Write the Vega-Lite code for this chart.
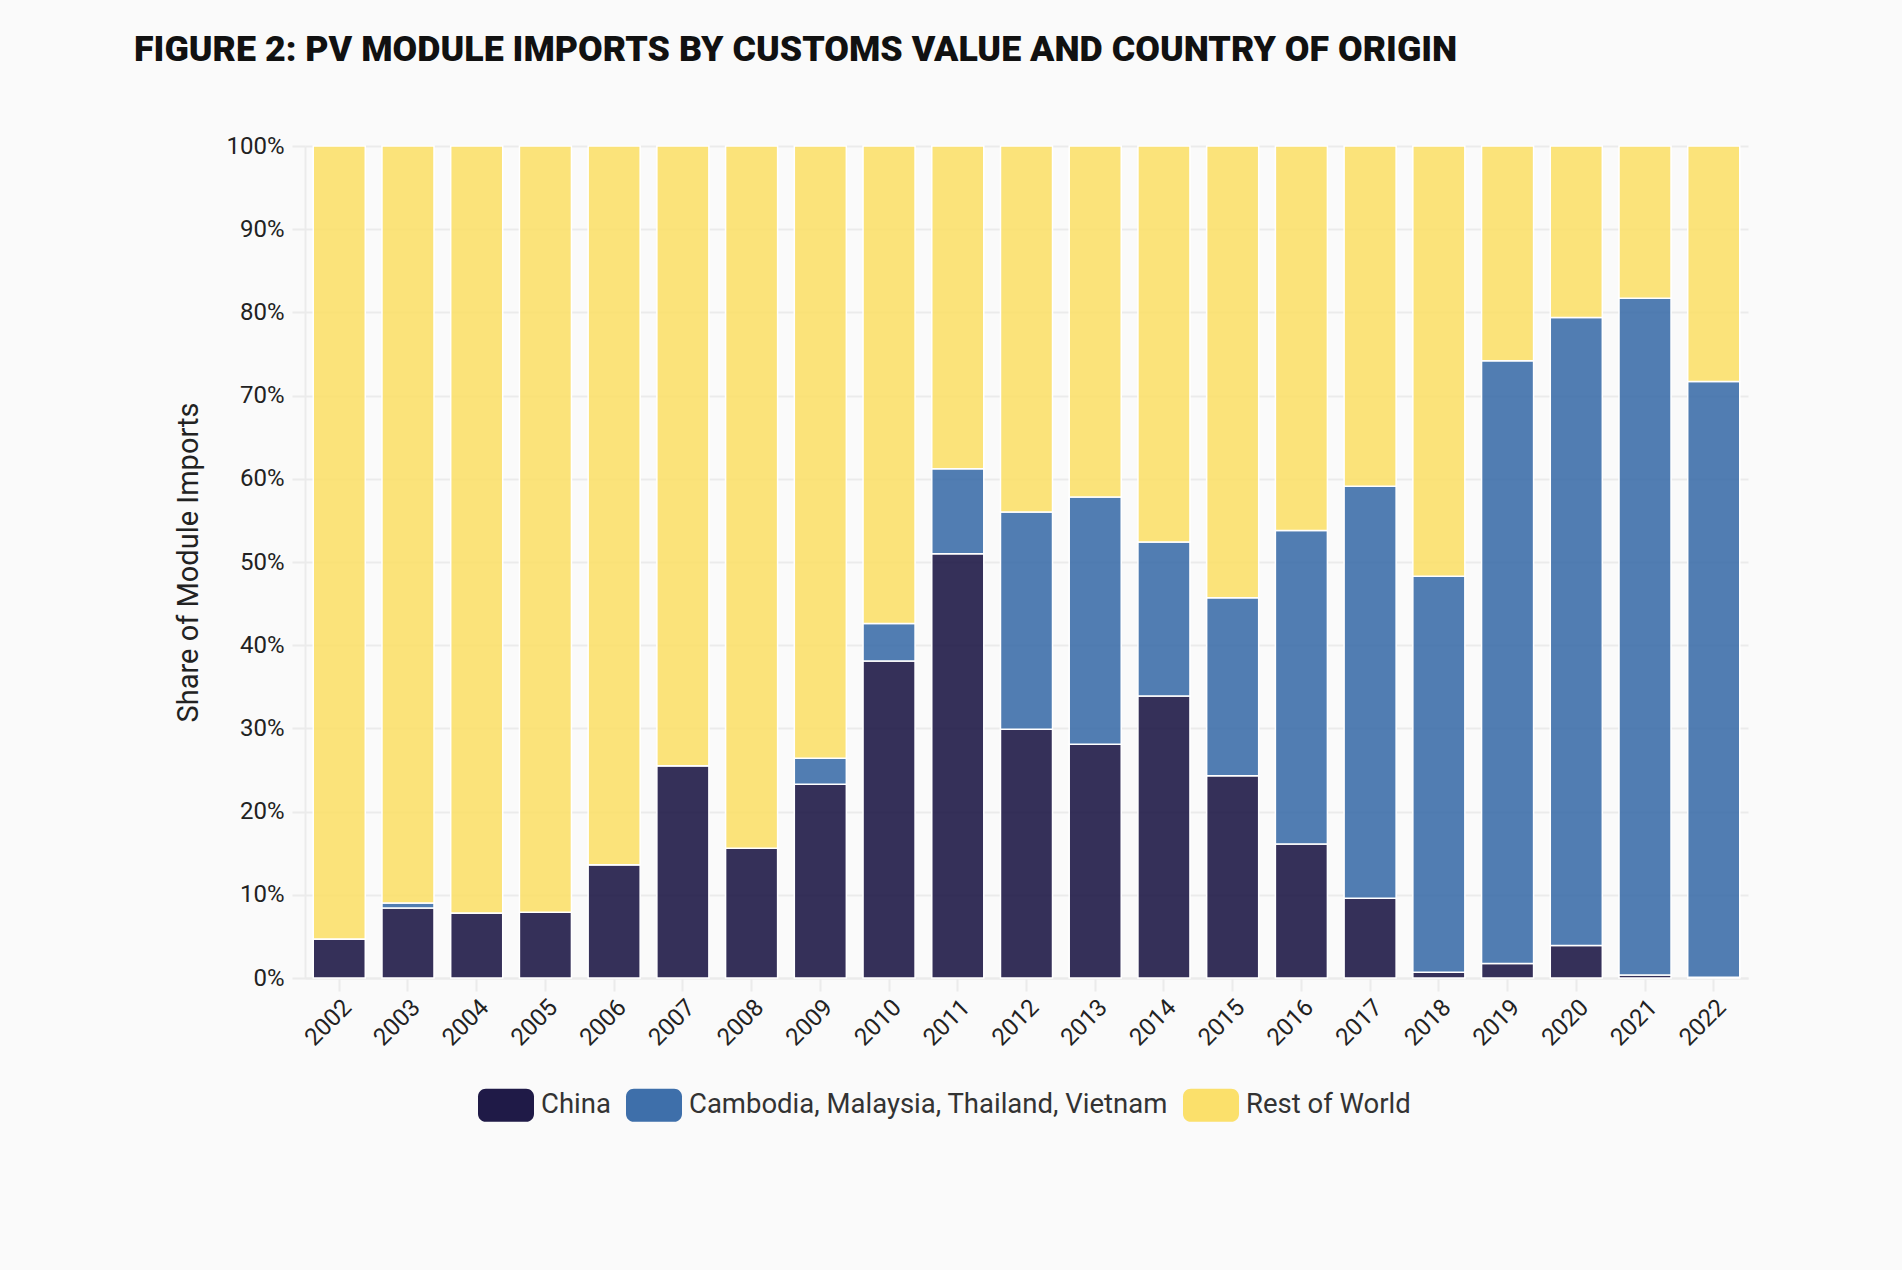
{
  "$schema": "https://vega.github.io/schema/vega-lite/v6.json",
  "autosize": {"type": "none"},
  "padding": {"left": 305, "top": 146, "right": 154, "bottom": 292},
  "width": 1443,
  "height": 832,
  "background": "#fafafa",
  "title": {
    "text": "FIGURE 2: PV MODULE IMPORTS BY CUSTOMS VALUE AND COUNTRY OF ORIGIN",
    "anchor": "start",
    "frame": "group",
    "dx": -171,
    "font": "Roboto",
    "fontSize": 35.8,
    "fontWeight": 900,
    "color": "#111111",
    "offset": 65
  },
  "data": {
    "values": [
      {"year": "2002", "series": "China", "share": 4.7},
      {"year": "2002", "series": "Cambodia, Malaysia, Thailand, Vietnam", "share": 0},
      {"year": "2002", "series": "Rest of World", "share": 95.3},
      {"year": "2003", "series": "China", "share": 8.4},
      {"year": "2003", "series": "Cambodia, Malaysia, Thailand, Vietnam", "share": 0.6},
      {"year": "2003", "series": "Rest of World", "share": 91.0},
      {"year": "2004", "series": "China", "share": 7.8},
      {"year": "2004", "series": "Cambodia, Malaysia, Thailand, Vietnam", "share": 0},
      {"year": "2004", "series": "Rest of World", "share": 92.2},
      {"year": "2005", "series": "China", "share": 7.9},
      {"year": "2005", "series": "Cambodia, Malaysia, Thailand, Vietnam", "share": 0},
      {"year": "2005", "series": "Rest of World", "share": 92.1},
      {"year": "2006", "series": "China", "share": 13.6},
      {"year": "2006", "series": "Cambodia, Malaysia, Thailand, Vietnam", "share": 0},
      {"year": "2006", "series": "Rest of World", "share": 86.4},
      {"year": "2007", "series": "China", "share": 25.5},
      {"year": "2007", "series": "Cambodia, Malaysia, Thailand, Vietnam", "share": 0},
      {"year": "2007", "series": "Rest of World", "share": 74.5},
      {"year": "2008", "series": "China", "share": 15.6},
      {"year": "2008", "series": "Cambodia, Malaysia, Thailand, Vietnam", "share": 0},
      {"year": "2008", "series": "Rest of World", "share": 84.4},
      {"year": "2009", "series": "China", "share": 23.3},
      {"year": "2009", "series": "Cambodia, Malaysia, Thailand, Vietnam", "share": 3.1},
      {"year": "2009", "series": "Rest of World", "share": 73.6},
      {"year": "2010", "series": "China", "share": 38.1},
      {"year": "2010", "series": "Cambodia, Malaysia, Thailand, Vietnam", "share": 4.5},
      {"year": "2010", "series": "Rest of World", "share": 57.4},
      {"year": "2011", "series": "China", "share": 51.0},
      {"year": "2011", "series": "Cambodia, Malaysia, Thailand, Vietnam", "share": 10.2},
      {"year": "2011", "series": "Rest of World", "share": 38.8},
      {"year": "2012", "series": "China", "share": 29.9},
      {"year": "2012", "series": "Cambodia, Malaysia, Thailand, Vietnam", "share": 26.1},
      {"year": "2012", "series": "Rest of World", "share": 44.0},
      {"year": "2013", "series": "China", "share": 28.1},
      {"year": "2013", "series": "Cambodia, Malaysia, Thailand, Vietnam", "share": 29.7},
      {"year": "2013", "series": "Rest of World", "share": 42.2},
      {"year": "2014", "series": "China", "share": 33.9},
      {"year": "2014", "series": "Cambodia, Malaysia, Thailand, Vietnam", "share": 18.5},
      {"year": "2014", "series": "Rest of World", "share": 47.6},
      {"year": "2015", "series": "China", "share": 24.3},
      {"year": "2015", "series": "Cambodia, Malaysia, Thailand, Vietnam", "share": 21.4},
      {"year": "2015", "series": "Rest of World", "share": 54.3},
      {"year": "2016", "series": "China", "share": 16.1},
      {"year": "2016", "series": "Cambodia, Malaysia, Thailand, Vietnam", "share": 37.7},
      {"year": "2016", "series": "Rest of World", "share": 46.2},
      {"year": "2017", "series": "China", "share": 9.6},
      {"year": "2017", "series": "Cambodia, Malaysia, Thailand, Vietnam", "share": 49.5},
      {"year": "2017", "series": "Rest of World", "share": 40.9},
      {"year": "2018", "series": "China", "share": 0.7},
      {"year": "2018", "series": "Cambodia, Malaysia, Thailand, Vietnam", "share": 47.6},
      {"year": "2018", "series": "Rest of World", "share": 51.7},
      {"year": "2019", "series": "China", "share": 1.75},
      {"year": "2019", "series": "Cambodia, Malaysia, Thailand, Vietnam", "share": 72.45},
      {"year": "2019", "series": "Rest of World", "share": 25.8},
      {"year": "2020", "series": "China", "share": 3.9},
      {"year": "2020", "series": "Cambodia, Malaysia, Thailand, Vietnam", "share": 75.5},
      {"year": "2020", "series": "Rest of World", "share": 20.6},
      {"year": "2021", "series": "China", "share": 0.35},
      {"year": "2021", "series": "Cambodia, Malaysia, Thailand, Vietnam", "share": 81.35},
      {"year": "2021", "series": "Rest of World", "share": 18.3},
      {"year": "2022", "series": "China", "share": 0.1},
      {"year": "2022", "series": "Cambodia, Malaysia, Thailand, Vietnam", "share": 71.6},
      {"year": "2022", "series": "Rest of World", "share": 28.3}
    ]
  },
  "transform": [
    {"calculate": "indexof(['China', 'Cambodia, Malaysia, Thailand, Vietnam', 'Rest of World'], datum.series)", "as": "stack_rank"}
  ],
  "mark": {"type": "bar", "fillOpacity": 0.9, "stroke": "#ffffff", "strokeWidth": 1.5},
  "encoding": {
    "x": {
      "field": "year",
      "type": "ordinal",
      "title": null,
      "scale": {"paddingInner": 0.243, "paddingOuter": 0.12},
      "axis": {
        "labelAngle": -45,
        "labelFontSize": 24,
        "labelColor": "#222222",
        "labelPadding": 4,
        "tickColor": "#ebebeb",
        "tickSize": 13,
        "tickWidth": 2,
        "domainColor": "#ebebeb",
        "domainWidth": 2,
        "grid": false
      }
    },
    "y": {
      "field": "share",
      "type": "quantitative",
      "stack": "normalize",
      "title": "Share of Module Imports",
      "scale": {"domain": [0, 1]},
      "axis": {
        "values": [0, 0.1, 0.2, 0.3, 0.4, 0.5, 0.6, 0.7, 0.8, 0.9, 1],
        "format": ".0%",
        "labelFontSize": 24,
        "labelColor": "#222222",
        "labelPadding": 8,
        "titleFontSize": 29,
        "titleFontWeight": "normal",
        "titleColor": "#222222",
        "titlePadding": 22,
        "grid": true,
        "gridColor": "#ebebeb",
        "gridWidth": 2,
        "tickColor": "#ebebeb",
        "tickSize": 13,
        "tickWidth": 2,
        "domainColor": "#ebebeb",
        "domainWidth": 2
      }
    },
    "color": {
      "field": "series",
      "type": "nominal",
      "scale": {
        "domain": ["China", "Cambodia, Malaysia, Thailand, Vietnam", "Rest of World"],
        "range": ["#1f1a47", "#3e6faa", "#fbe06b"]
      },
      "legend": {
        "orient": "none",
        "legendX": 173,
        "legendY": 931,
        "direction": "horizontal",
        "title": null,
        "labelFontSize": 27.5,
        "labelColor": "#333333",
        "labelOffset": 7,
        "labelLimit": 800,
        "columnPadding": 15,
        "symbolType": "M-0.72,-0.59 H0.72 A0.28,0.28 0 0 1 1,-0.31 V0.31 A0.28,0.28 0 0 1 0.72,0.59 H-0.72 A0.28,0.28 0 0 1 -1,0.31 V-0.31 A0.28,0.28 0 0 1 -0.72,-0.59 Z",
        "symbolSize": 3136,
        "symbolStrokeWidth": 0,
        "symbolOpacity": 1
      }
    },
    "order": {"field": "stack_rank", "type": "quantitative"}
  },
  "config": {
    "font": "Roboto",
    "view": {"stroke": null}
  }
}
